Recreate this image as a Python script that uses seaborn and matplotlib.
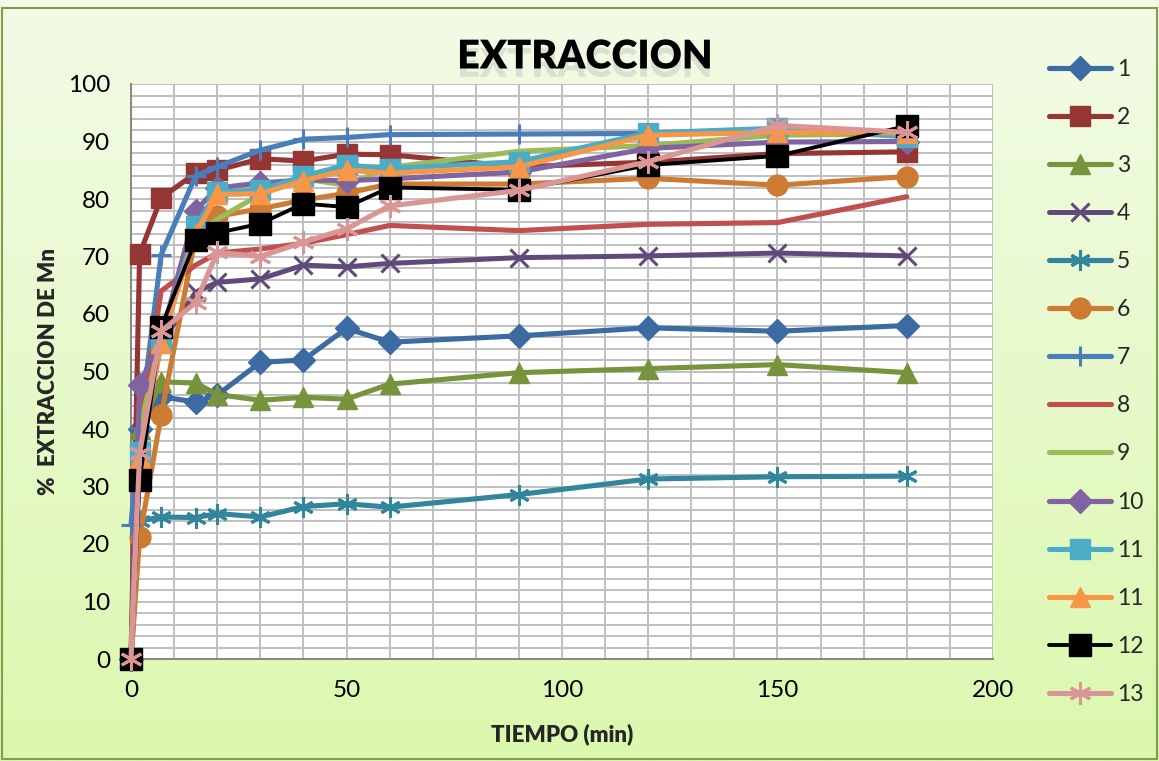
import numpy as np
import pandas as pd
import matplotlib
matplotlib.use("Agg")
import matplotlib.pyplot as plt
import matplotlib.patheffects as pe
from matplotlib.patches import Rectangle
from matplotlib.ticker import MultipleLocator
import seaborn as sns

# ---------------- data ----------------
tiempo = [0, 2, 7, 15, 20, 30, 40, 50, 60, 90, 120, 150, 180]
labels = ["1", "2", "3", "4", "5", "6", "7", "8", "9", "10", "11", "11", "12", "13"]
s1 = [0, 40.0, 45.6, 44.7, 45.9, 51.6, 52.0, 57.5, 55.1, 56.2, 57.6, 57.0, 58.0]
s2 = [0, 70.4, 80.2, 84.5, 85.0, 87.0, 86.6, 87.8, 87.7, 85.6, 86.4, 87.9, 88.2]
s3 = [0, 40.0, 48.2, 48.0, 46.0, 45.0, 45.5, 45.2, 47.8, 49.8, 50.5, 51.2, 49.8]
s4 = [0, 35.0, 55.0, 63.8, 65.5, 66.1, 68.5, 68.2, 68.8, 69.8, 70.1, 70.6, 70.1]
s5 = [0, 24.0, 24.7, 24.6, 25.3, 24.7, 26.5, 27.0, 26.4, 28.6, 31.3, 31.7, 31.8]
s6 = [0, 21.2, 42.4, 73.5, 77.0, 78.3, 79.8, 81.0, 82.6, 82.6, 83.6, 82.4, 83.9]
s7 = [23.3, 40.2, 70.3, 84.0, 85.6, 88.5, 90.4, 90.7, 91.2, 91.3, 91.4, 91.6, 91.5]
s8 = [0, 40.0, 64.0, 68.5, 70.6, 71.3, 72.3, 73.8, 75.4, 74.5, 75.6, 75.9, 80.4]
s9 = [0, 40.0, 56.0, 74.0, 76.5, 80.8, 83.5, 82.4, 85.5, 88.3, 89.3, 91.1, 91.3]
s10 = [0, 47.7, 56.0, 78.0, 81.9, 82.8, 83.3, 83.2, 83.5, 84.7, 88.8, 89.9, 90.0]
s11a = [0, 36.0, 55.0, 75.3, 81.3, 81.5, 84.0, 85.9, 85.3, 86.5, 91.5, 92.3, 90.8]
s11b = [0, 35.0, 55.0, 74.0, 80.8, 80.9, 83.2, 85.0, 84.5, 85.6, 91.1, 91.6, 91.5]
s12 = [0, 31.1, 57.7, 72.8, 74.1, 75.7, 79.2, 78.6, 82.0, 81.6, 85.9, 87.5, 92.7]
s13 = [0, 35.8, 57.0, 62.0, 70.7, 70.0, 72.5, 74.8, 78.8, 81.5, 86.5, 92.8, 91.6]
series = [s1, s2, s3, s4, s5, s6, s7, s8, s9, s10, s11a, s11b, s12, s13]
x_ticks = [0, 50, 100, 150, 200]
y_ticks = [0, 10, 20, 30, 40, 50, 60, 70, 80, 90, 100]

# ---------------- styles ----------------
star = (6, 2, 0)
styles = [
    dict(color="#3C6AA3", marker="D", ms=12, mew=1, lw=3.7),
    dict(color="#963634", marker="s", ms=14, mew=1, lw=3.7),
    dict(color="#77933C", marker="^", ms=14, mew=1, lw=3.7),
    dict(color="#604A7B", marker="x", ms=13, mew=2.2, lw=3.6),
    dict(color="#31859C", marker=star, ms=15, mew=2.2, lw=3.7),
    dict(color="#CD7A33", marker="o", ms=15, mew=1, lw=3.7),
    dict(color="#4A7EBB", marker="+", ms=15, mew=2.2, lw=3.7),
    dict(color="#C0504D", marker=None, ms=0, mew=0, lw=3.7),
    dict(color="#9BBB59", marker=None, ms=0, mew=0, lw=3.7),
    dict(color="#8064A2", marker="D", ms=12, mew=1, lw=3.7),
    dict(color="#4BACC6", marker="s", ms=14, mew=1, lw=3.7),
    dict(color="#F79646", marker="^", ms=14, mew=1, lw=3.7),
    dict(color="#000000", marker="s", ms=16, mew=1, lw=2.8),
    dict(color="#D99694", marker=star, ms=16, mew=2.2, lw=3.7),
]

sns.set_style("white")
plt.rcParams["font.family"] = ["Lato", "DejaVu Sans"]

W, H = 1159, 761
fig = plt.figure(figsize=(W / 100, H / 100), dpi=100)

# gradient background
bg = fig.add_axes([0, 0, 1, 1], zorder=-10)
top = np.array([0xF3, 0xFB, 0xE7]) / 255
bot = np.array([0xDB, 0xF8, 0xAE]) / 255
grad = np.linspace(0, 1, 256)[:, None]
img = top[None, None, :] * (1 - grad[..., None]) + bot[None, None, :] * grad[..., None]
img = np.repeat(img, 2, axis=1)
bg.imshow(img, aspect="auto", extent=[0, 1, 0, 1])
bg.axis("off")
fig.patches.append(Rectangle((2 / W, 2 / H), 1 - 4 / W, 1 - 10 / H, transform=fig.transFigure,
                             fill=False, edgecolor="#7F9F4A", linewidth=1.5, zorder=5))

ax = fig.add_axes([131 / W, 1 - 659 / H, (993 - 131) / W, (659 - 84) / H])
ax.set_facecolor("white")

for vals, lab, st in zip(series, labels, styles):
    kw = dict(x=tiempo, y=vals, ax=ax, color=st["color"], linewidth=st["lw"], label=lab,
              clip_on=False, zorder=3)
    if st["marker"] is not None:
        kw.update(marker=st["marker"], markersize=st["ms"], markeredgewidth=st["mew"],
                  markeredgecolor=st["color"], markerfacecolor=st["color"])
    sns.lineplot(**kw)

ax.set_xlim(0, 200)
ax.set_ylim(0, 100)
ax.set_xticks(x_ticks)
ax.set_yticks(y_ticks)
ax.xaxis.set_minor_locator(MultipleLocator(10))
ax.yaxis.set_minor_locator(MultipleLocator(2))
ax.grid(True, which="both", color="#BFBFBF", linewidth=1.4)
ax.set_axisbelow(True)
for s in ["top", "right"]:
    ax.spines[s].set_visible(False)
for s in ["left", "bottom"]:
    ax.spines[s].set_color("#868686")
    ax.spines[s].set_linewidth(1.4)
ax.tick_params(axis="both", which="major", direction="out", length=9, width=1.4,
               color="#868686", labelsize=17.5, pad=6, labelcolor="black")
ax.tick_params(axis="both", which="minor", length=0)

ax.set_xlabel("TIEMPO (min)", fontsize=16, fontweight="heavy", labelpad=16)
ax.set_ylabel("%  EXTRACCION DE Mn", fontsize=16, fontweight="heavy", labelpad=6)

fig.text(585 / W, 1 - 57 / H, "EXTRACCION", ha="center", va="center", fontsize=28.5,
         fontweight="heavy", color="black",
         path_effects=[pe.SimplePatchShadow(offset=(0, -6), shadow_rgbFace="#9a9a9a", alpha=0.25),
                       pe.Normal()])

handles, labs = ax.get_legend_handles_labels()
if ax.get_legend() is not None:
    ax.get_legend().remove()
fig.legend(handles, labs, loc="upper left", bbox_to_anchor=(1040 / W, 1 - 50 / H),
           frameon=False, fontsize=16.5, handlelength=2.7, handletextpad=0.25,
           labelspacing=1.18, borderaxespad=0)

fig.savefig("out.png", dpi=100)
